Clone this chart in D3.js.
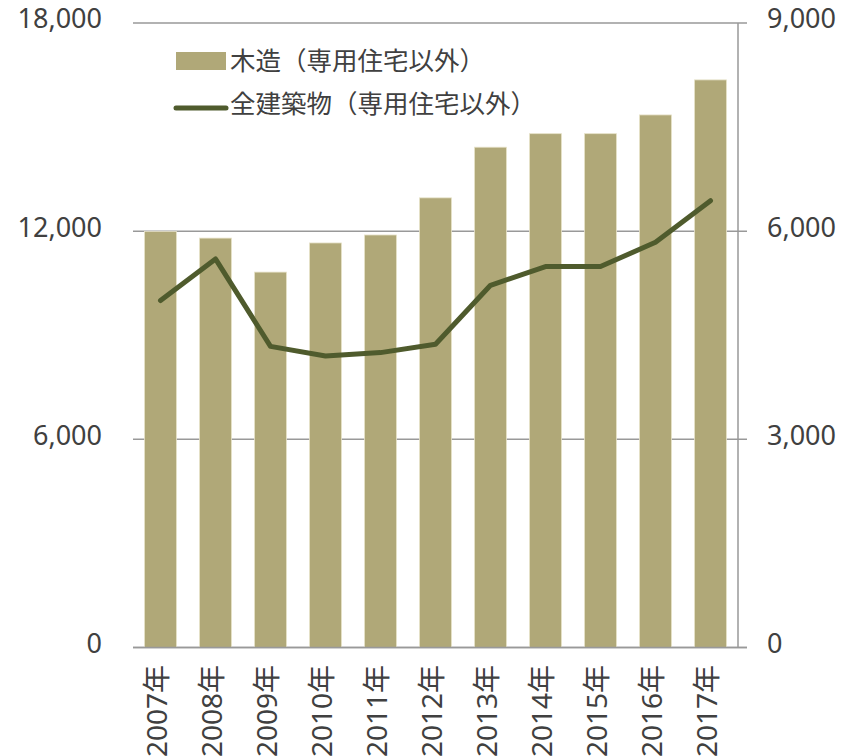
<!DOCTYPE html>
<html>

<head>
    <meta charset="utf-8">
    <script src="https://d3js.org/d3.v7.min.js"></script>
    <style>
        body { margin: 0; background: #fff; }
        text { font-family: "Noto Sans", "Noto Sans CJK JP", sans-serif; fill: #404040; }
    </style>
</head>

<body>
    <div id="chart"></div>
    <script>
    // data
    var years = ["2007年", "2008年", "2009年", "2010年", "2011年", "2012年",
        "2013年", "2014年", "2015年", "2016年", "2017年"];
    var wooden = [11990, 11800, 10820, 11660, 11890, 12960, 14420, 14810, 14810, 15350, 16360];
    var allBuildings = [5000, 5600, 4340, 4200, 4250, 4370, 5220, 5490, 5490, 5840, 6440];
    var leftTicks = [0, 6000, 12000, 18000];
    var rightTicks = [0, 3000, 6000, 9000];
    var barName = "木造（専用住宅以外）";
    var lineName = "全建築物（専用住宅以外）";

    var width = 854, height = 756;
    var plot = { left: 133, right: 738, top: 23, bottom: 647.5 };

    var svg = d3.select("#chart")
        .append("svg")
        .attr("width", width)
        .attr("height", height);

    var x = d3.scaleBand()
        .domain(years)
        .range([plot.left, plot.right])
        .paddingInner(0.42)
        .paddingOuter(0.21);

    var yL = d3.scaleLinear().domain([0, 18000]).range([plot.bottom, plot.top]);
    var yR = d3.scaleLinear().domain([0, 9000]).range([plot.bottom, plot.top]);
    var fmt = d3.format(",");

    // gridlines
    svg.selectAll(".grid")
        .data(leftTicks)
        .enter()
        .append("line")
        .attr("x1", plot.left)
        .attr("x2", plot.right + 9)
        .attr("y1", d => yL(d))
        .attr("y2", d => yL(d))
        .style("stroke", "#999")
        .style("stroke-width", 1.5);

    // right axis line
    svg.append("line")
        .attr("x1", plot.right).attr("x2", plot.right)
        .attr("y1", plot.top).attr("y2", plot.bottom)
        .style("stroke", "#999")
        .style("stroke-width", 1.5);

    // bars
    svg.selectAll(".bar")
        .data(wooden)
        .enter()
        .append("rect")
        .attr("x", (d, i) => x(years[i]))
        .attr("y", d => yL(d))
        .attr("width", x.bandwidth())
        .attr("height", d => plot.bottom - yL(d))
        .style("fill", "#b0a878")
        .style("stroke", "#e6e1c8")
        .style("stroke-width", 0.8);

    // bottom axis line over bars
    svg.append("line")
        .attr("x1", plot.left).attr("x2", plot.right + 9)
        .attr("y1", yL(0)).attr("y2", yL(0))
        .style("stroke", "#999")
        .style("stroke-width", 1.5);

    // line
    var line = d3.line()
        .x((d, i) => x(years[i]) + x.bandwidth() / 2)
        .y(d => yR(d));

    svg.append("path")
        .datum(allBuildings)
        .attr("d", line)
        .style("fill", "none")
        .style("stroke", "#4f5b2d")
        .style("stroke-width", 5)
        .style("stroke-linecap", "round")
        .style("stroke-linejoin", "round");

    // left tick labels
    svg.selectAll(".lt")
        .data(leftTicks)
        .enter()
        .append("text")
        .attr("x", 102)
        .attr("y", d => yL(d) - 4)
        .attr("dy", "0.35em")
        .attr("text-anchor", "end")
        .style("font-size", "27px")
        .text(d => fmt(d));

    // right tick labels
    svg.selectAll(".rt")
        .data(rightTicks)
        .enter()
        .append("text")
        .attr("x", 767)
        .attr("y", d => yR(d) - 4)
        .attr("dy", "0.35em")
        .attr("text-anchor", "start")
        .style("font-size", "27px")
        .text(d => fmt(d));

    // category labels (rotated)
    svg.selectAll(".xl")
        .data(years)
        .enter()
        .append("text")
        .attr("transform", d => "translate(" + (x(d) + x.bandwidth() / 2 - 3) + ",665) rotate(-90)")
        .attr("dy", "0.35em")
        .attr("text-anchor", "end")
        .style("font-size", "28px")
        .text(d => d);

    // legend
    svg.append("rect")
        .attr("x", 176).attr("y", 52)
        .attr("width", 50).attr("height", 18)
        .style("fill", "#b0a878");
    svg.append("text")
        .attr("x", 230).attr("y", 61)
        .attr("dy", "0.35em")
        .style("font-size", "25.5px")
        .text(barName);

    svg.append("line")
        .attr("x1", 176).attr("x2", 226)
        .attr("y1", 108).attr("y2", 108)
        .style("stroke", "#4f5b2d")
        .style("stroke-width", 5)
        .style("stroke-linecap", "round");
    svg.append("text")
        .attr("x", 230).attr("y", 104)
        .attr("dy", "0.35em")
        .style("font-size", "25.5px")
        .text(lineName);
    </script>
</body>

</html>
